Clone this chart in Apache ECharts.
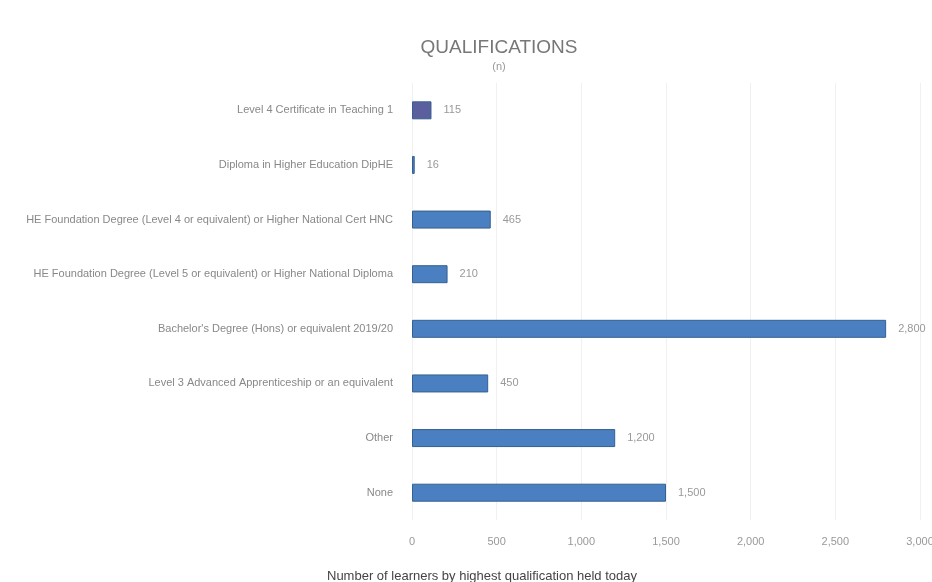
<!DOCTYPE html>
<html>
<head>
<meta charset="utf-8">
<script src="https://cdn.jsdelivr.net/npm/echarts@6/dist/echarts.min.js"></script>
<style>
html,body{margin:0;padding:0;background:#fff;overflow:hidden;}
#c{width:932px;height:582px;}
</style>
</head>
<body>
<div id="c"></div>
<script>
var categories = [
  "None",
  "Other",
  "Level 3 Advanced Apprenticeship or an equivalent",
  "Bachelor's Degree (Hons) or equivalent 2019/20",
  "HE Foundation Degree (Level 5 or equivalent) or Higher National Diploma",
  "HE Foundation Degree (Level 4 or equivalent) or Higher National Cert HNC",
  "Diploma in Higher Education DipHE",
  "Level 4 Certificate in Teaching 1"
];
var values = [1500, 1200, 450, 2800, 210, 465, 16, 115];
var tickLabels = ["0", "500", "1,000", "1,500", "2,000", "2,500", "3,000"];
var titleText = "QUALIFICATIONS";
var subtitleText = "(n)";
var axisName = "Number of learners by highest qualification held today";

var chart = echarts.init(document.getElementById('c'));
chart.setOption({
  backgroundColor: '#ffffff',
  title: [{
    text: titleText,
    subtext: subtitleText,
    left: 494,
    top: 33,
    textAlign: 'center',
    itemGap: 4,
    textStyle: { fontSize: 19, fontWeight: 'normal', color: '#777', fontFamily: 'Liberation Sans' },
    subtextStyle: { fontSize: 11, color: '#999', fontFamily: 'Liberation Sans' }
  }, {
    text: axisName,
    left: 477,
    top: 565,
    textAlign: 'center',
    textStyle: { fontSize: 13, fontWeight: 'normal', color: '#444', fontFamily: 'Liberation Sans' }
  }],
  grid: { left: 412, right: 12, top: 83, bottom: 62, containLabel: false, outerBoundsMode: 'none' },
  xAxis: {
    type: 'value',
    min: 0,
    max: 3000,
    interval: 500,
    axisLine: { show: false },
    axisTick: { show: false },
    axisLabel: {
      color: '#999', fontSize: 11, margin: 16, fontFamily: 'Liberation Sans',
      formatter: function (v) { return tickLabels[Math.round(v / 500)]; }
    },
    splitLine: { show: true, lineStyle: { color: '#f0f0f0', width: 1 } }
  },
  yAxis: {
    type: 'category',
    data: categories,
    axisLine: { show: false },
    axisTick: { show: false },
    axisLabel: { color: '#888', fontSize: 11, margin: 19, fontFamily: 'Liberation Sans' }
  },
  series: [{
    type: 'bar',
    data: values,
    barWidth: 18,
    itemStyle: {
      color: function (p) {
        return p.dataIndex === 7 ? '#5b5f9e' : '#4a7fc1';
      },
      borderColor: '#35608f',
      borderWidth: 1
    },
    label: {
      show: true,
      position: 'right',
      distance: 12,
      color: '#999',
      fontSize: 11,
      fontFamily: 'Liberation Sans',
      formatter: function (p) { return p.value.toLocaleString('en-US'); }
    }
  }]
});
</script>
</body>
</html>
